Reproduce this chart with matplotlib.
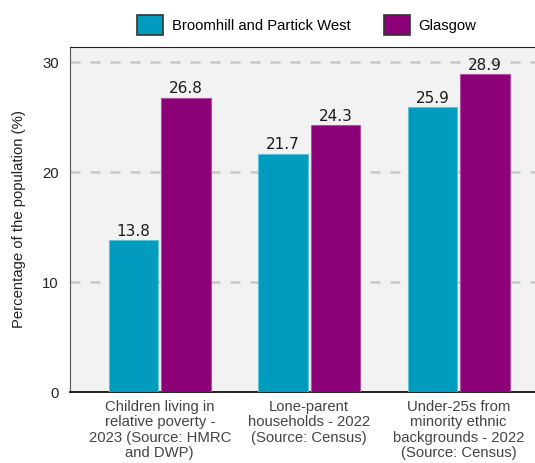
import matplotlib
matplotlib.use("Agg")
import matplotlib.pyplot as plt
from matplotlib.patches import Patch
import numpy as np

categories = [
    "Children living in\nrelative poverty -\n2023 (Source: HMRC\nand DWP)",
    "Lone-parent\nhouseholds - 2022\n(Source: Census)",
    "Under-25s from\nminority ethnic\nbackgrounds - 2022\n(Source: Census)",
]
series_names = ["Broomhill and Partick West", "Glasgow"]
broomhill = [13.8, 21.7, 25.9]
glasgow = [26.8, 24.3, 28.9]
yticks = [0, 10, 20, 30]

cyan = "#009BBD"
purple = "#8C0078"
fs = 10.7

plt.rcParams["font.family"] = ["Liberation Sans", "DejaVu Sans"]

fig = plt.figure(figsize=(5.35, 4.63), dpi=100)
ax = fig.add_axes([70 / 535, 71 / 463, 1 - 70 / 535, (392 - 47) / 463])
ax.set_facecolor("#F2F2F2")

x = np.arange(len(categories))
w = 0.33
off = 0.175
b1 = ax.bar(x - off, broomhill, w, color=cyan, edgecolor="#5EC3D8", linewidth=0.8, zorder=3)
b2 = ax.bar(x + off, glasgow, w, color=purple, edgecolor="#B050A0", linewidth=0.8, zorder=3)

for bars in (b1, b2):
    ax.bar_label(bars, fmt="%.1f", padding=1, fontsize=11, family="DejaVu Sans", color="#1a1a1a")

ax.set_xlim(-0.6, 2.51)
ax.set_ylim(0, 31.4)
ax.set_yticks(yticks)
ax.yaxis.grid(True, linestyle=(0, (4, 4)), color="#C8C8C8", linewidth=1.8, zorder=0)
ax.set_xticks(x)
ax.set_xticklabels(categories, fontsize=fs, color="#444444", linespacing=1.1)
ax.tick_params(axis="both", length=0, labelsize=fs)
ax.tick_params(axis="y", pad=8, colors="#222222")
ax.tick_params(axis="x", pad=6)
ax.set_ylabel("Percentage of the population (%)", fontsize=fs, color="#222222", labelpad=12)

ax.spines["right"].set_visible(False)
ax.spines["left"].set_color("#555555")
ax.spines["top"].set_color("#222222")
ax.spines["bottom"].set_color("#111111")
ax.spines["bottom"].set_linewidth(1.3)

handles = [Patch(facecolor=cyan, edgecolor="#333333", linewidth=1.2),
           Patch(facecolor=purple, edgecolor="#333333", linewidth=1.2)]
fig.legend(handles, series_names, loc="upper center", bbox_to_anchor=(307 / 535, 1.0),
           ncol=2, frameon=False, fontsize=fs, handlelength=1.75, handleheight=1.75,
           columnspacing=2.2, handletextpad=0.6, borderaxespad=0.6)

fig.savefig("out.png", dpi=100)
